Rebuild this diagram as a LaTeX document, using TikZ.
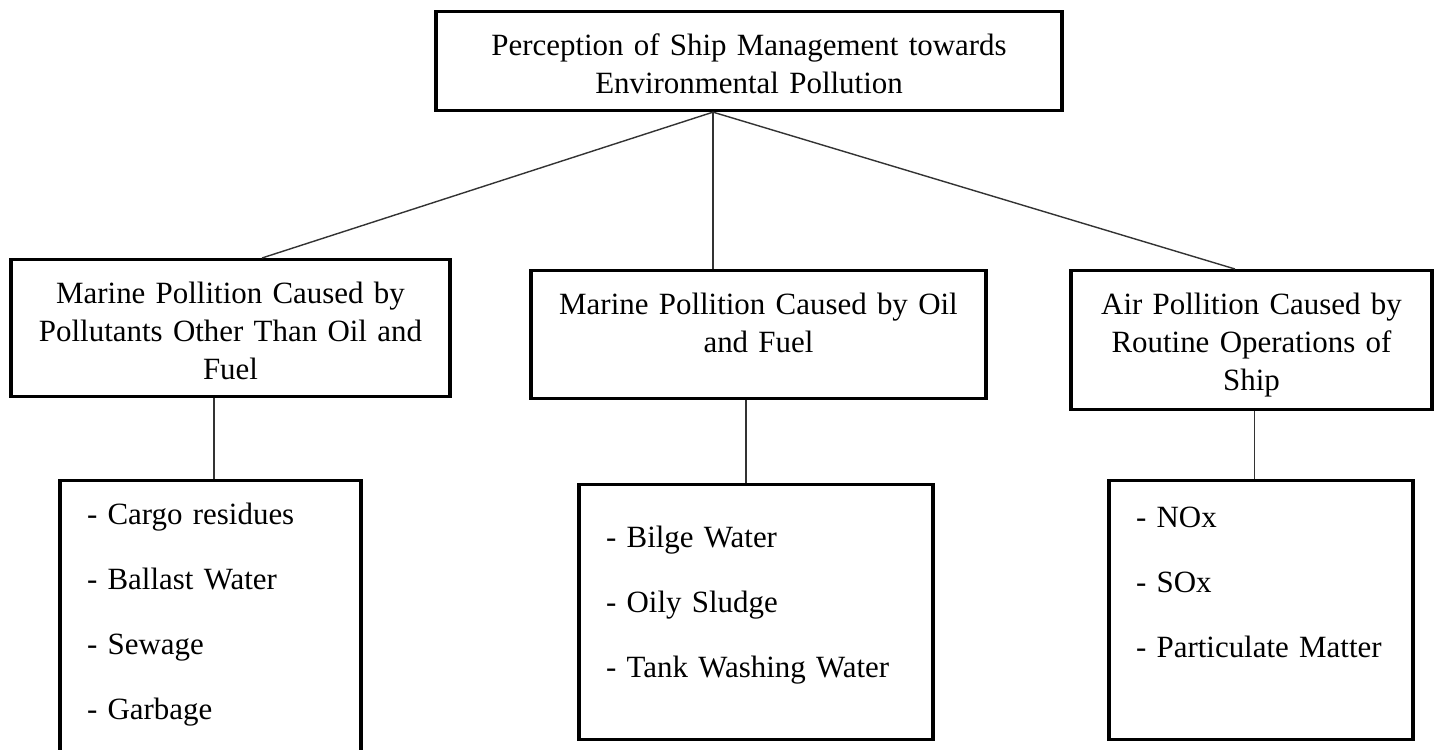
\documentclass[tikz,border=0pt]{standalone}
\usepackage{fontspec}
\setmainfont{Liberation Serif}
\usepackage{tikz}

\begin{document}
\begin{tikzpicture}[x=0.02cm, y=-0.02cm,
        box/.style={draw=black, line width=1.8pt, anchor=north, inner sep=0pt, align=center, text height=0.88cm, font=\fontsize{17.6pt}{21.6pt}\selectfont},
        listbox/.style={draw=black, line width=1.8pt, anchor=north, inner xsep=0.54cm, inner ysep=0pt, align=left, font=\fontsize{17.6pt}{37pt}\selectfont},
        link/.style={black!80, line width=0.8pt}]

            \useasboundingbox (0,0) rectangle (1437,750);

            \node[box, text width=12.52cm, text depth=1.10cm] (top) at (749,10) {Perception of Ship Management towards\\Environmental Pollution};

            \node[box, text width=8.78cm, text depth=1.86cm] (pol) at (230.5,258) {Marine Pollition Caused by\\Pollutants Other Than Oil and\\Fuel};

            \node[box, text width=9.10cm, text depth=1.68cm] (oil) at (758.5,269) {Marine Pollition Caused by Oil\\and Fuel};

            \node[box, text width=7.22cm, text depth=1.90cm] (air) at (1251.5,269) {Air Pollition Caused by\\Routine Operations of\\Ship};

            \node[listbox, text width=4.94cm, text height=0.88cm, text depth=5.34cm] (pollist) at (210.5,479) {- Cargo residues\\- Ballast Water\\- Sewage\\- Garbage};

            \node[listbox, text width=6.00cm, text height=1.26cm, text depth=3.84cm] (oillist) at (756,483) {- Bilge Water\\- Oily Sludge\\- Tank Washing Water};

            \node[listbox, text width=5.00cm, text height=0.94cm, text depth=4.24cm] (airlist) at (1261,479) {- NOx\\- SOx\\- Particulate Matter};

            \coordinate (hub) at ([xshift=-0.72cm]top.south);

            \draw[link] (hub) -- ([xshift=0.63cm]pol.north);
            \draw[link] (hub) -- (hub |- oil.north);
            \draw[link] (hub) -- ([xshift=-0.33cm]air.north);

            \draw[link] ([xshift=-0.33cm]pol.south) -- ([xshift=-0.33cm]pol.south |- pollist.north);
            \draw[link] ([xshift=-0.25cm]oil.south) -- ([xshift=-0.25cm]oil.south |- oillist.north);
            \draw[link] ([xshift=0.06cm]air.south) -- ([xshift=0.06cm]air.south |- airlist.north);

\end{tikzpicture}
\end{document}
